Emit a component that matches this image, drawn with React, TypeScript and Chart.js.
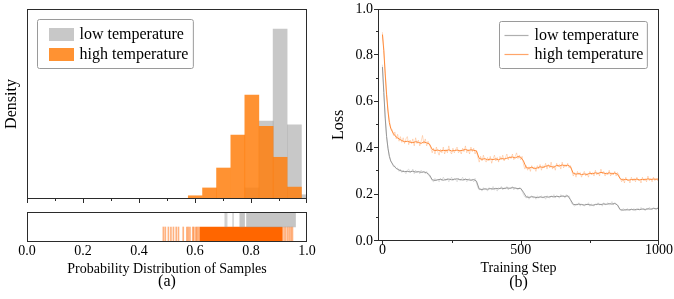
import React, { useEffect, useRef } from "react";
import { Chart, registerables } from "chart.js";
Chart.register(...registerables);

const SERIF = "'Liberation Serif', 'Times New Roman', Times, serif";

// ---------------- Panel (a): histogram + rug ----------------
const seriesNames = ["low temperature", "high temperature"];
const binCenters = [0.601, 0.652, 0.702, 0.753, 0.803, 0.854, 0.904, 0.955, 1.005];
const lowTempDensity = [0, 0, 0, 0, 0.65, 4.58, 9.98, 4.35, 0.25];
const highTempDensity = [0.19, 0.65, 1.82, 3.76, 6.11, 4.27, 2.45, 0.7, 0];
const densityMax = 11.16;
const probTicks = [0, 0.2, 0.4, 0.6, 0.8, 1.0];
const probMinorTicks = [0.1, 0.3, 0.5, 0.7, 0.9];

const lowRugSamples = [0.708, 0.713, 0.736];
const lowRugSpans = [
  [0.76, 0.777],
  [0.784, 0.959],
];
const highRugSamples = [
  0.487, 0.494, 0.505, 0.514, 0.523, 0.533, 0.541, 0.558, 0.571, 0.576, 0.582, 0.592, 0.596,
  0.603, 0.607, 0.612, 0.918, 0.924, 0.931, 0.937, 0.943, 0.948,
];
const highRugSpans = [[0.617, 0.912]];

// ---------------- Panel (b): loss curves ----------------
const stepTicks = [0, 500, 1000];
const stepMinorTicks = [250, 750];
const lossTicks = [0, 0.2, 0.4, 0.6, 0.8, 1.0];
const lossMinorTicks = [0.1, 0.3, 0.5, 0.7, 0.9];

const smoothSteps = [0, 5, 10, 15, 20, 25, 30, ...Array.from({ length: 97 }, (_, i) => 40 + 10 * i)];
const rawSteps = Array.from({ length: 201 }, (_, i) => i * 5);

const highSmooth = [
  0.89, 0.82, 0.72, 0.63, 0.56, 0.51, 0.485,
  0.462, 0.448, 0.44, 0.433, 0.428, 0.43, 0.426, 0.424, 0.428, 0.425, 0.421, 0.427, 0.423, 0.418,
  0.395, 0.39, 0.392, 0.388, 0.391, 0.389, 0.393, 0.388, 0.39, 0.392, 0.389, 0.391, 0.395, 0.39, 0.393, 0.391, 0.388,
  0.356, 0.352, 0.355, 0.35, 0.353, 0.351, 0.354, 0.35, 0.356, 0.353, 0.357, 0.36, 0.362, 0.358, 0.364, 0.361,
  0.345, 0.316, 0.314, 0.318, 0.312, 0.315, 0.32, 0.317, 0.322, 0.325, 0.321, 0.318, 0.326, 0.323, 0.328, 0.324, 0.327, 0.32,
  0.292, 0.288, 0.291, 0.286, 0.289, 0.287, 0.292, 0.29, 0.294, 0.291, 0.296, 0.293, 0.29, 0.294, 0.289, 0.293, 0.288,
  0.268, 0.263, 0.266, 0.262, 0.265, 0.264, 0.267, 0.263, 0.266, 0.264, 0.268, 0.265, 0.267, 0.266, 0.268,
];
const lowSmooth = [
  0.75, 0.64, 0.53, 0.45, 0.4, 0.365, 0.345,
  0.325, 0.313, 0.306, 0.301, 0.299, 0.3, 0.298, 0.301, 0.297, 0.299, 0.296, 0.298, 0.294, 0.285,
  0.264, 0.261, 0.264, 0.266, 0.262, 0.265, 0.267, 0.264, 0.266, 0.268, 0.265, 0.263, 0.266, 0.264, 0.262, 0.265, 0.258,
  0.224, 0.222, 0.225, 0.223, 0.226, 0.224, 0.227, 0.225, 0.228, 0.226, 0.229, 0.227, 0.23, 0.228, 0.226, 0.227,
  0.21, 0.19, 0.188, 0.191, 0.189, 0.187, 0.19, 0.188, 0.191, 0.189, 0.192, 0.19, 0.193, 0.191, 0.194, 0.192, 0.195, 0.178,
  0.158, 0.156, 0.159, 0.157, 0.155, 0.158, 0.156, 0.154, 0.157, 0.159, 0.157, 0.16, 0.158, 0.161, 0.159, 0.162, 0.155,
  0.135, 0.133, 0.135, 0.134, 0.136, 0.134, 0.137, 0.135, 0.138, 0.136, 0.139, 0.137, 0.14, 0.139, 0.141,
];

const highRaw = [
  0.9, 0.83, 0.73, 0.64, 0.57, 0.52, 0.49,
  0.48, 0.455, 0.47, 0.44, 0.46, 0.43, 0.45, 0.425, 0.445, 0.42, 0.44, 0.45, 0.415, 0.435, 0.42, 0.44, 0.41, 0.445, 0.42, 0.435, 0.41, 0.43, 0.455, 0.42, 0.44, 0.41, 0.43, 0.415,
  0.4, 0.38, 0.4, 0.375, 0.405, 0.385, 0.37, 0.395, 0.38, 0.405, 0.375, 0.395, 0.38, 0.41, 0.385, 0.375, 0.4, 0.38, 0.395, 0.405, 0.38, 0.39, 0.375, 0.4, 0.385, 0.41, 0.38, 0.395, 0.375, 0.405, 0.385, 0.4, 0.375, 0.39,
  0.36, 0.34, 0.365, 0.345, 0.37, 0.35, 0.34, 0.36, 0.345, 0.365, 0.335, 0.355, 0.37, 0.345, 0.36, 0.34, 0.365, 0.35, 0.37, 0.345, 0.36, 0.375, 0.35, 0.365, 0.355, 0.375, 0.35, 0.365, 0.38, 0.355, 0.37, 0.35, 0.365,
  0.33, 0.31, 0.325, 0.305, 0.32, 0.3, 0.325, 0.31, 0.32, 0.3, 0.325, 0.31, 0.33, 0.305, 0.325, 0.315, 0.335, 0.31, 0.33, 0.315, 0.34, 0.31, 0.325, 0.305, 0.335, 0.32, 0.33, 0.31, 0.34, 0.315, 0.33, 0.32, 0.335, 0.315, 0.325,
  0.3, 0.28, 0.295, 0.275, 0.3, 0.285, 0.295, 0.275, 0.29, 0.3, 0.28, 0.29, 0.275, 0.3, 0.285, 0.295, 0.28, 0.305, 0.285, 0.295, 0.28, 0.31, 0.29, 0.3, 0.28, 0.295, 0.285, 0.305, 0.28, 0.295, 0.285, 0.3, 0.28, 0.295, 0.285,
  0.27, 0.255, 0.27, 0.25, 0.275, 0.26, 0.265, 0.25, 0.275, 0.26, 0.27, 0.255, 0.275, 0.26, 0.265, 0.25, 0.275, 0.26, 0.27, 0.255, 0.28, 0.26, 0.27, 0.255, 0.275, 0.26, 0.27, 0.26, 0.275,
];
const lowRaw = [
  0.76, 0.65, 0.54, 0.455, 0.4, 0.37, 0.345,
  0.335, 0.32, 0.325, 0.31, 0.315, 0.3, 0.31, 0.295, 0.305, 0.3, 0.29, 0.305, 0.31, 0.295, 0.3, 0.31, 0.29, 0.305, 0.295, 0.3, 0.29, 0.305, 0.295, 0.3, 0.29, 0.3, 0.285, 0.28,
  0.27, 0.26, 0.255, 0.27, 0.26, 0.265, 0.255, 0.27, 0.26, 0.275, 0.265, 0.26, 0.27, 0.255, 0.265, 0.275, 0.26, 0.27, 0.265, 0.255, 0.27, 0.26, 0.265, 0.275, 0.26, 0.27, 0.255, 0.265, 0.27, 0.26, 0.265, 0.255, 0.27, 0.25,
  0.23, 0.22, 0.225, 0.215, 0.23, 0.22, 0.225, 0.215, 0.23, 0.225, 0.22, 0.235, 0.22, 0.225, 0.215, 0.23, 0.225, 0.235, 0.22, 0.23, 0.225, 0.235, 0.22, 0.23, 0.225, 0.235, 0.22, 0.23, 0.225, 0.22, 0.23, 0.225, 0.215,
  0.2, 0.19, 0.185, 0.195, 0.18, 0.19, 0.195, 0.185, 0.19, 0.18, 0.195, 0.185, 0.19, 0.195, 0.185, 0.19, 0.18, 0.195, 0.19, 0.185, 0.195, 0.19, 0.2, 0.185, 0.195, 0.19, 0.185, 0.2, 0.19, 0.195, 0.185, 0.2, 0.19, 0.195, 0.175,
  0.16, 0.155, 0.15, 0.16, 0.155, 0.165, 0.15, 0.16, 0.155, 0.15, 0.16, 0.155, 0.165, 0.15, 0.16, 0.155, 0.15, 0.16, 0.155, 0.165, 0.155, 0.16, 0.15, 0.165, 0.155, 0.16, 0.165, 0.155, 0.16, 0.17, 0.155, 0.165, 0.16, 0.155, 0.14,
  0.135, 0.13, 0.14, 0.135, 0.13, 0.14, 0.135, 0.13, 0.14, 0.135, 0.14, 0.13, 0.135, 0.14, 0.135, 0.145, 0.135, 0.14, 0.13, 0.14, 0.135, 0.145, 0.14, 0.135, 0.145, 0.14, 0.135, 0.145, 0.14,
];

// ---------------- styles ----------------
const GRAY_BAR = "rgba(128,128,128,0.43)";
const ORANGE_BAR = "rgba(255,127,14,0.85)";
const GRAY_LINE = "rgb(150,150,150)";
const GRAY_RAW = "rgba(150,150,150,0.28)";
const ORANGE_LINE = "rgb(255,140,60)";
const ORANGE_RAW = "rgba(255,140,60,0.3)";
const AXIS = "#2b2b2b";
const RUG_HALF = 0.0018;

function boxPlugin(id: string) {
  return {
    id,
    afterDatasetsDraw(chart: any) {
      const { ctx, chartArea: a } = chart;
      ctx.save();
      ctx.strokeStyle = AXIS;
      ctx.lineWidth = 1;
      const l = Math.round(a.left), t = Math.round(a.top), r = Math.round(a.right), b = Math.round(a.bottom);
      ctx.strokeRect(l + 0.5, t + 0.5, r - l - 1, b - t - 1);
      ctx.restore();
    },
  };
}

function tickPlugin(id: string, specs: any[]) {
  return {
    id,
    afterDraw(chart: any) {
      const { ctx, chartArea: a } = chart;
      ctx.save();
      ctx.strokeStyle = AXIS;
      ctx.lineWidth = 1;
      ctx.beginPath();
      for (const s of specs) {
        const scale = chart.scales[s.scale];
        for (const v of s.values) {
          const p = Math.round(scale.getPixelForValue(v));
          if (s.scale === "x") {
            const px = Math.min(p, Math.round(a.right) - 1) + 0.5;
            ctx.moveTo(px, Math.round(a.bottom));
            ctx.lineTo(px, Math.round(a.bottom) + s.len);
          } else {
            const py = Math.max(p - 1, Math.round(a.top)) + 0.5;
            ctx.moveTo(Math.round(a.left), py);
            ctx.lineTo(Math.round(a.left) - s.len, py);
          }
        }
      }
      ctx.stroke();
      ctx.restore();
    },
  };
}

function legendPlugin(id: string, items: any[], o: any) {
  return {
    id,
    afterDraw(chart: any) {
      const { ctx, chartArea: a } = chart;
      ctx.save();
      ctx.font = `16px ${SERIF}`;
      const tw = Math.max(...items.map((it) => ctx.measureText(it.label).width));
      const w = o.padL + o.sw + o.gap + tw + o.padR;
      const h = o.padT + items.length * o.row + o.padB;
      const x0 = Math.round(o.anchor === "left" ? a.left + o.dx : a.right - o.dx - w) + 0.5;
      const y0 = Math.round(a.top + o.dy) + 0.5;
      const r = 2;
      ctx.beginPath();
      ctx.moveTo(x0 + r, y0);
      ctx.lineTo(x0 + w - r, y0);
      ctx.quadraticCurveTo(x0 + w, y0, x0 + w, y0 + r);
      ctx.lineTo(x0 + w, y0 + h - r);
      ctx.quadraticCurveTo(x0 + w, y0 + h, x0 + w - r, y0 + h);
      ctx.lineTo(x0 + r, y0 + h);
      ctx.quadraticCurveTo(x0, y0 + h, x0, y0 + h - r);
      ctx.lineTo(x0, y0 + r);
      ctx.quadraticCurveTo(x0, y0, x0 + r, y0);
      ctx.closePath();
      ctx.fillStyle = "rgba(255,255,255,0.85)";
      ctx.fill();
      ctx.strokeStyle = "#9a9a9a";
      ctx.lineWidth = 1;
      ctx.stroke();
      items.forEach((it, i) => {
        const cy = y0 + o.padT + o.row * (i + 0.5);
        const sx = x0 + o.padL;
        if (it.kind === "patch") {
          ctx.fillStyle = it.color;
          ctx.fillRect(Math.round(sx), Math.round(cy - 6.5), o.sw, 13);
        } else {
          ctx.strokeStyle = it.color;
          ctx.lineWidth = 1.2;
          ctx.beginPath();
          ctx.moveTo(sx, Math.round(cy) + 0.5);
          ctx.lineTo(sx + o.sw, Math.round(cy) + 0.5);
          ctx.stroke();
        }
        ctx.fillStyle = "#000";
        ctx.textBaseline = "middle";
        ctx.textAlign = "left";
        ctx.fillText(it.label, sx + o.sw + o.gap, cy + 0.5);
      });
      ctx.restore();
    },
  };
}

const setTicks = (vals: number[]) => (scale: any) => {
  scale.ticks = vals.map((v) => ({ value: v }));
};

const NO_GRID = { display: false, drawTicks: false, tickLength: 0 };

function makeHist(canvas: HTMLCanvasElement) {
  return new Chart(canvas, {
    type: "bar",
    data: {
      datasets: [
        {
          label: seriesNames[0],
          data: binCenters.map((c, i) => ({ x: c, y: lowTempDensity[i] })),
          backgroundColor: GRAY_BAR,
          order: 2,
        },
        {
          label: seriesNames[1],
          data: binCenters.map((c, i) => ({ x: c, y: highTempDensity[i] })),
          backgroundColor: ORANGE_BAR,
          order: 1,
        },
      ],
    },
    options: {
      animation: false,
      responsive: false,
      devicePixelRatio: 1,
      events: [],
      layout: { padding: { top: 9, right: 23, left: 0, bottom: 0 } },
      datasets: { bar: { grouped: false, barPercentage: 1, categoryPercentage: 1, borderWidth: 0 } },
      plugins: { legend: { display: false }, tooltip: { enabled: false }, title: { display: false } },
      scales: {
        x: {
          type: "linear",
          min: 0,
          max: 1,
          offset: false,
          grid: NO_GRID,
          border: { display: false },
          ticks: { display: false },
          afterBuildTicks: setTicks(probTicks),
          afterFit: (s: any) => {
            s.height = 6;
            s.paddingLeft = 0;
            s.paddingRight = 0;
          },
        },
        y: {
          min: 0,
          max: densityMax,
          grid: NO_GRID,
          border: { display: false },
          ticks: { display: false },
          title: {
            display: true,
            text: "Density",
            color: "#000",
            font: { family: SERIF, size: 16, lineHeight: 1 },
            padding: { top: 4, bottom: 0 },
          },
          afterFit: (s: any) => {
            s.width = 27;
            s.paddingTop = 0;
            s.paddingBottom = 0;
          },
        },
      },
    },
    plugins: [
      boxPlugin("histBox"),
      tickPlugin("histTicks", [
        { scale: "x", values: probTicks, len: 4 },
        { scale: "x", values: probMinorTicks, len: 2 },
      ]),
      legendPlugin(
        "histLegend",
        [
          { label: seriesNames[0], color: GRAY_BAR, kind: "patch" },
          { label: seriesNames[1], color: ORANGE_BAR, kind: "patch" },
        ],
        { anchor: "left", dx: 10, dy: 10, padL: 11, sw: 25, gap: 6, padR: 5, padT: 5, row: 20, padB: 4 }
      ),
    ],
  } as any);
}

function makeRug(canvas: HTMLCanvasElement) {
  const lines = (vals: number[], cat: string) => vals.map((v) => ({ x: [v - RUG_HALF, v + RUG_HALF], y: cat }));
  const spans = (vals: number[][], cat: string) => vals.map((v) => ({ x: [v[0], v[1]], y: cat }));
  return new Chart(canvas, {
    type: "bar",
    data: {
      labels: seriesNames,
      datasets: [
        { data: lines(lowRugSamples, seriesNames[0]), backgroundColor: "rgba(150,150,150,0.4)" },
        { data: spans(lowRugSpans, seriesNames[0]), backgroundColor: "rgba(150,150,150,0.55)" },
        { data: lines(highRugSamples, seriesNames[1]), backgroundColor: "rgba(255,102,0,0.5)" },
        { data: spans(highRugSpans, seriesNames[1]), backgroundColor: "rgb(255,102,0)" },
      ],
    },
    options: {
      indexAxis: "y",
      animation: false,
      responsive: false,
      devicePixelRatio: 1,
      events: [],
      layout: { padding: { top: 7, right: 23, left: 27, bottom: 0 } },
      datasets: { bar: { grouped: false, barPercentage: 1, categoryPercentage: 1, borderWidth: 0 } },
      plugins: {
        legend: { display: false },
        tooltip: { enabled: false },
        title: {
          display: true,
          position: "bottom",
          fullSize: false,
          text: "(a)",
          color: "#000",
          font: { family: SERIF, size: 16, weight: "normal", lineHeight: 1 },
          padding: { top: 0, bottom: 9 },
        },
      },
      scales: {
        x: {
          type: "linear",
          min: 0,
          max: 1,
          grid: NO_GRID,
          border: { display: false },
          afterBuildTicks: setTicks(probTicks),
          ticks: {
            color: "#000",
            padding: 2,
            maxRotation: 0,
            font: { family: SERIF, size: 14, lineHeight: 1 },
            callback: (v: any) => Number(v).toFixed(1),
          },
          title: {
            display: true,
            text: "Probability Distribution of Samples",
            color: "#000",
            font: { family: SERIF, size: 14, lineHeight: 1 },
            padding: { top: 0, bottom: -2 },
          },
          afterFit: (s: any) => {
            s.height = 32;
            s.paddingLeft = 0;
            s.paddingRight = 0;
          },
        },
        y: { type: "category", display: false },
      },
    },
    plugins: [boxPlugin("rugBox")],
  } as any);
}

function makeLoss(canvas: HTMLCanvasElement) {
  const pts = (xs: number[], ys: number[]) => ys.map((y, i) => ({ x: xs[i], y }));
  return new Chart(canvas, {
    type: "line",
    data: {
      datasets: [
        { label: seriesNames[0] + " raw", data: pts(rawSteps, lowRaw), borderColor: GRAY_RAW, order: 4 },
        { label: seriesNames[1] + " raw", data: pts(rawSteps, highRaw), borderColor: ORANGE_RAW, order: 3 },
        { label: seriesNames[0], data: pts(smoothSteps, lowSmooth), borderColor: GRAY_LINE, order: 2 },
        { label: seriesNames[1], data: pts(smoothSteps, highSmooth), borderColor: ORANGE_LINE, order: 1 },
      ],
    },
    options: {
      animation: false,
      responsive: false,
      devicePixelRatio: 1,
      events: [],
      elements: { point: { radius: 0 }, line: { borderWidth: 1, tension: 0 } },
      layout: { padding: { top: 9, right: 15, left: 0, bottom: 0 } },
      plugins: {
        legend: { display: false },
        tooltip: { enabled: false },
        title: {
          display: true,
          position: "bottom",
          fullSize: false,
          text: "(b)",
          color: "#000",
          font: { family: SERIF, size: 16, weight: "normal", lineHeight: 1 },
          padding: { top: 0, bottom: 8 },
        },
      },
      scales: {
        x: {
          type: "linear",
          min: -16,
          max: 1000,
          grid: NO_GRID,
          border: { display: false },
          afterBuildTicks: setTicks(stepTicks),
          ticks: {
            color: "#000",
            padding: 2,
            maxRotation: 0,
            font: { family: SERIF, size: 14, lineHeight: 1 },
            callback: (v: any) => String(v),
          },
          title: {
            display: true,
            text: "Training Step",
            color: "#000",
            font: { family: SERIF, size: 14, lineHeight: 1 },
            padding: { top: 0, bottom: 0 },
          },
          afterFit: (s: any) => {
            s.height = 34;
            s.paddingLeft = 0;
            s.paddingRight = 0;
          },
        },
        y: {
          min: 0,
          max: 1,
          grid: NO_GRID,
          border: { display: false },
          afterBuildTicks: setTicks(lossTicks),
          ticks: {
            color: "#000",
            padding: 5,
            font: { family: SERIF, size: 14, lineHeight: 1 },
            callback: (v: any) => Number(v).toFixed(1),
          },
          title: {
            display: true,
            text: "Loss",
            color: "#000",
            font: { family: SERIF, size: 16, lineHeight: 1 },
            padding: { top: 1, bottom: 0 },
          },
          afterFit: (s: any) => {
            s.width = 48;
            s.paddingTop = 0;
            s.paddingBottom = 0;
          },
        },
      },
    },
    plugins: [
      boxPlugin("lossBox"),
      tickPlugin("lossTicks", [
        { scale: "x", values: stepTicks, len: 4 },
        { scale: "x", values: stepMinorTicks, len: 2 },
        { scale: "y", values: lossTicks, len: 4 },
        { scale: "y", values: lossMinorTicks, len: 2 },
      ]),
      legendPlugin(
        "lossLegend",
        [
          { label: seriesNames[0], color: "rgb(175,175,175)", kind: "line" },
          { label: seriesNames[1], color: "rgb(255,165,105)", kind: "line" },
        ],
        { anchor: "right", dx: 12, dy: 12, padL: 5, sw: 24, gap: 6, padR: 4, padT: 4, row: 19, padB: 5 }
      ),
    ],
  } as any);
}

export default function App() {
  const histRef = useRef<HTMLCanvasElement>(null);
  const rugRef = useRef<HTMLCanvasElement>(null);
  const lossRef = useRef<HTMLCanvasElement>(null);

  useEffect(() => {
    const charts = [makeHist(histRef.current!), makeRug(rugRef.current!), makeLoss(lossRef.current!)];
    return () => charts.forEach((c) => c.destroy());
  }, []);

  return (
    <div style={{ position: "fixed", left: 0, top: 0, width: 674, height: 299, background: "#fff", overflow: "hidden" }}>
      <canvas ref={histRef} width={330} height={205} style={{ position: "absolute", left: 0, top: 0, width: 330, height: 205 }} />
      <canvas ref={rugRef} width={330} height={94} style={{ position: "absolute", left: 0, top: 205, width: 330, height: 94 }} />
      <canvas ref={lossRef} width={344} height={299} style={{ position: "absolute", left: 330, top: 0, width: 344, height: 299 }} />
    </div>
  );
}
